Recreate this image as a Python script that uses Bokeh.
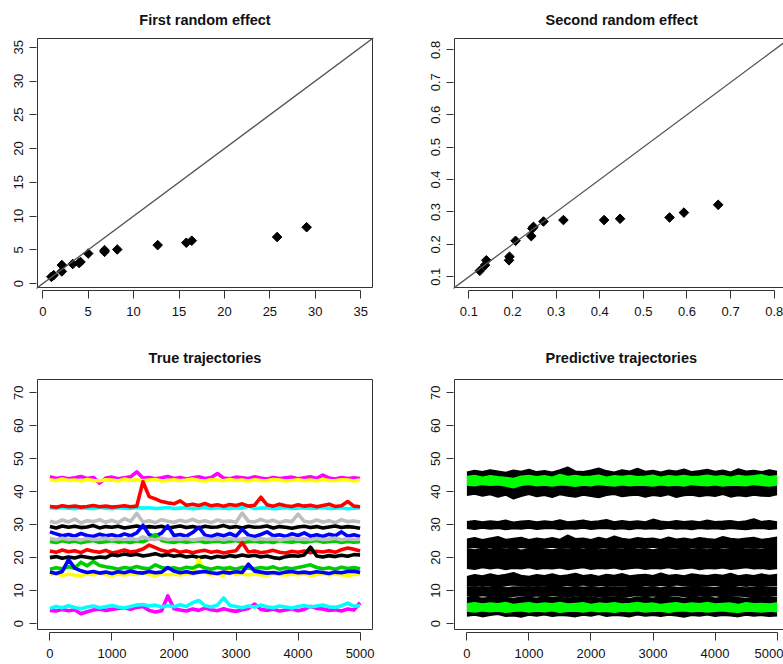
from bokeh.plotting import figure
from bokeh.layouts import column, row
from bokeh.models import FixedTicker, BoxAnnotation, Slope, Range1d
from bokeh.embed import file_html
from bokeh.resources import INLINE

FONT = "Liberation Sans"

# ---------------- data ----------------
# First random effect (true vs estimated)
RE1_X = [0.95, 1.2, 2.1, 2.1, 3.3, 4.0, 4.15, 5.0, 6.8, 6.8, 8.2, 12.65, 15.8, 16.4, 25.8, 29.05]
RE1_Y = [1.0, 1.25, 1.8, 2.75, 2.9, 3.05, 3.2, 4.45, 4.7, 4.95, 5.05, 5.7, 6.05, 6.35, 6.9, 8.35]
# Second random effect
RE2_X = [0.125, 0.137, 0.140, 0.192, 0.193, 0.207, 0.243, 0.2455, 0.248, 0.271, 0.3167, 0.41, 0.4466, 0.56, 0.593, 0.6715]
RE2_Y = [0.1185, 0.136, 0.151, 0.151, 0.162, 0.211, 0.2255, 0.249, 0.254, 0.2705, 0.275, 0.275, 0.279, 0.283, 0.298, 0.322]

RE1_TICKS = [0, 5, 10, 15, 20, 25, 30, 35]
RE2_TICKS = [0.1, 0.2, 0.3, 0.4, 0.5, 0.6, 0.7, 0.8]
TIME_TICKS = [0, 1000, 2000, 3000, 4000, 5000]
LEVEL_TICKS = [0, 10, 20, 30, 40, 50, 60, 70]

# True trajectories, sampled every 100 time steps
TRUE_T = list(range(0, 5001, 100))
TRUE_MAGENTA_HI = [44.5,44.0,44.3,43.9,44.2,44.6,44.0,44.3,42.6,44.1,
                   44.4,43.9,44.2,44.5,46.0,44.1,44.3,43.9,44.2,44.6,
                   44.0,44.3,43.8,44.2,44.5,44.0,44.3,45.5,44.1,43.9,
                   44.4,44.2,44.0,44.5,44.1,43.8,44.3,44.0,44.2,44.4,
                   43.9,44.2,44.5,44.0,45.0,44.1,43.8,44.3,44.0,44.2,44.0]
TRUE_YELLOW_HI = [43.6,43.3,43.8,43.4,43.5,43.2,43.7,43.4,43.3,43.6,
                  43.5,43.2,43.8,43.4,43.6,43.3,43.5,43.7,43.2,43.4,
                  43.6,43.3,43.5,43.8,43.4,43.2,43.6,43.5,43.3,43.7,
                  43.4,43.5,43.2,43.6,43.4,43.3,43.7,43.5,43.2,43.4,
                  43.6,43.3,43.5,43.2,43.7,43.4,43.3,43.6,43.5,43.2,43.5]
TRUE_CYAN_HI = [35.1,34.9,35.2,35.0,34.8,35.1,35.0,34.9,35.2,35.0,
                34.8,35.1,35.0,34.9,35.2,35.0,35.1,34.9,35.0,35.2,
                34.9,35.0,35.1,34.8,35.0,35.2,34.9,35.1,35.0,34.9,
                35.1,35.0,35.6,34.9,35.0,35.1,34.8,35.0,35.2,34.9,
                35.0,35.1,34.9,35.0,35.2,34.9,35.0,35.1,34.8,35.0,35.1]
TRUE_RED_HI = [35.5,35.3,35.7,35.4,35.6,35.3,35.5,35.8,35.4,35.6,
               35.3,35.5,35.7,35.4,35.6,43.0,38.5,37.8,37.0,36.6,
               36.3,37.2,35.9,36.2,35.8,36.4,35.7,36.0,35.6,36.1,
               35.8,36.3,35.6,35.9,38.3,36.0,35.6,36.2,35.7,35.5,
               36.0,35.6,35.9,35.4,35.8,36.2,35.5,35.7,37.0,35.6,35.4]
TRUE_GRAY_HI = [31.0,30.6,31.4,30.8,31.7,30.5,31.2,30.9,31.5,30.7,
                31.3,30.6,31.8,31.0,33.4,30.8,31.2,30.6,31.5,31.0,
                30.7,31.3,30.9,31.6,30.8,31.2,30.6,31.4,30.9,31.1,
                30.7,33.5,31.0,30.8,31.6,30.9,31.3,30.6,31.2,30.9,
                33.2,31.0,30.7,31.4,30.8,31.2,30.6,31.5,30.9,31.1,30.8]
TRUE_BLACK_HI = [29.4,29.0,29.6,29.2,29.5,29.1,29.3,29.7,29.0,29.4,
                 29.2,29.5,29.0,29.3,29.6,29.1,29.4,29.2,29.5,28.9,
                 29.3,29.6,29.1,29.4,29.0,29.5,29.2,29.3,29.7,29.1,
                 29.4,29.0,29.5,29.2,29.3,29.6,29.0,29.4,29.2,28.9,
                 29.3,29.5,29.1,29.4,29.0,29.3,29.6,29.1,29.4,29.2,28.9]
TRUE_BLUE_HI = [27.8,27.2,26.6,27.0,26.5,27.3,26.7,26.4,27.1,26.6,
                26.9,26.4,27.2,26.6,27.5,29.8,26.9,26.5,27.4,29.6,
                26.7,27.0,26.5,27.6,29.2,26.8,26.4,27.1,26.6,27.3,
                26.5,28.6,26.8,26.4,27.0,27.8,26.6,26.9,26.4,27.2,
                26.7,27.5,26.5,26.9,26.4,27.1,26.6,27.8,26.5,26.9,26.4]
TRUE_GREEN_HI = [24.9,24.6,25.1,24.7,25.0,24.5,24.9,25.2,24.6,24.8,
                 25.1,24.7,24.9,24.6,25.0,24.8,25.6,27.0,25.2,24.8,
                 24.6,25.0,24.7,24.9,25.1,24.6,24.8,25.0,24.7,24.9,
                 25.2,24.6,24.8,25.0,24.7,24.9,24.6,25.1,24.8,24.7,
                 25.0,24.6,24.9,25.2,24.7,24.8,25.0,24.6,24.9,24.7,24.8]
TRUE_GRAY_LO = [25.8,25.4,25.9,25.5,25.7,25.3,25.8,25.5,25.6,25.9,
                25.4,25.7,25.5,25.8,25.4,26.3,25.6,25.5,25.9,25.4,
                25.7,25.5,25.8,25.3,25.6,25.9,25.5,25.7,25.4,25.8,
                25.5,25.6,25.9,25.4,25.7,25.5,25.8,25.3,25.6,25.9,
                25.5,25.7,25.4,25.8,25.5,25.6,25.9,25.4,25.7,25.5,25.6]
TRUE_RED_LO = [22.0,21.6,22.3,21.8,22.1,21.5,22.4,21.9,21.6,22.2,
               21.4,21.8,22.3,21.7,22.0,22.6,23.8,23.0,22.2,21.8,
               22.3,21.6,22.0,21.5,21.9,22.2,21.6,21.9,21.4,21.8,
               22.1,24.5,21.7,22.0,21.5,21.8,22.2,21.6,21.4,21.9,
               21.6,22.0,21.5,21.9,21.7,22.1,21.6,22.4,22.9,22.5,22.0]
TRUE_BLACK_LO = [20.0,20.3,19.8,20.2,19.9,20.4,20.1,19.8,20.2,20.0,
                 20.9,20.6,21.1,20.7,21.0,20.5,20.8,21.2,20.6,20.9,
                 20.4,20.7,20.2,20.5,20.0,20.3,19.9,20.4,20.1,20.6,
                 20.3,20.8,20.4,20.7,20.2,20.5,20.0,19.7,20.3,20.6,
                 20.4,20.8,23.2,20.5,20.2,20.6,20.3,20.7,20.4,20.9,20.8]
TRUE_YELLOW_LO = [14.9,15.2,14.6,15.0,14.7,14.5,15.1,14.8,15.3,14.9,
                  14.6,15.0,14.7,15.2,14.8,15.4,14.9,14.6,15.1,14.8,
                  15.0,14.7,15.2,14.9,19.4,15.6,14.8,15.0,14.6,17.3,
                  14.9,15.1,14.7,15.0,14.8,14.6,15.2,14.9,14.7,15.0,
                  14.8,15.1,14.6,14.9,15.2,14.7,15.0,14.8,14.6,14.9,15.0]
TRUE_GREEN_LO = [16.5,16.9,16.6,17.2,16.8,18.6,17.5,18.8,17.6,17.2,
                 16.9,16.5,17.0,16.7,17.3,16.8,16.6,17.8,17.0,16.7,
                 16.9,16.5,17.1,16.8,17.6,16.9,16.5,17.0,16.7,16.9,
                 16.5,17.1,16.8,16.6,17.0,16.7,17.2,16.5,16.9,16.6,
                 17.0,17.4,17.8,17.0,16.6,16.9,16.5,17.1,16.7,17.0,16.6]
TRUE_BLUE_LO = [15.6,15.2,15.8,19.4,16.8,16.0,15.5,15.8,15.3,15.6,
                15.2,15.7,15.4,15.9,15.5,15.3,15.8,15.4,15.6,17.0,
                15.9,15.4,15.7,15.3,15.6,15.8,15.4,15.2,15.6,15.3,
                15.7,15.5,18.0,15.9,15.6,15.3,15.5,15.2,15.6,15.8,
                15.4,15.6,15.3,15.7,15.5,15.2,15.6,15.4,15.8,15.9,15.5]
TRUE_MAGENTA_LO = [4.0,3.8,4.3,3.9,4.2,3.0,3.6,4.1,4.4,4.0,
                   4.3,4.6,4.8,4.3,4.9,5.2,4.0,3.5,3.9,8.4,
                   4.5,4.1,3.8,4.4,4.0,4.7,4.2,3.9,4.5,4.0,
                   3.7,4.2,4.6,5.9,4.3,4.0,4.4,3.8,4.1,4.5,
                   3.9,4.3,5.2,4.6,4.4,4.0,4.2,3.8,4.4,4.1,6.3]
TRUE_CYAN_LO = [4.6,5.2,4.8,5.4,4.9,4.5,5.0,5.3,4.8,5.1,
                5.5,5.0,4.7,5.2,5.6,5.8,5.3,5.6,5.0,5.4,
                5.1,5.7,5.2,6.3,7.0,5.4,5.0,5.6,7.8,5.5,
                5.2,4.8,5.3,5.0,5.6,5.1,4.8,5.3,5.0,4.7,
                5.2,5.5,5.0,5.3,5.6,5.1,4.9,5.4,6.2,5.3,5.4]

# Predictive trajectories: envelopes (lower / upper) sampled every 125 steps
PRED_T = list(range(0, 5001, 125))
PRED_A_HI = [45.9,46.4,46.0,46.6,46.2,45.8,46.5,46.1,46.7,46.0,
             46.3,45.9,46.6,47.4,46.2,46.0,46.5,47.1,46.3,45.9,
             46.6,46.2,47.0,46.1,46.4,45.9,46.5,46.2,46.8,46.0,
             46.3,46.7,46.1,46.5,45.9,46.9,46.2,46.4,46.0,46.6,46.1]
PRED_A_LO = [38.9,39.3,38.7,39.1,38.4,39.0,37.8,38.6,39.2,38.5,
             38.9,38.3,39.1,38.7,38.4,39.0,38.6,38.2,38.9,39.2,
             38.5,38.8,39.0,38.4,38.9,38.6,39.1,38.3,38.8,39.0,
             38.5,38.9,38.6,39.2,38.4,38.8,38.5,39.0,38.7,38.6,39.1]
PRED_B_HI = [30.9,31.2,30.8,31.1,30.9,31.3,30.7,31.0,31.2,30.8,
             31.1,30.9,31.4,30.8,31.0,31.3,30.9,31.1,31.5,30.8,
             31.2,30.9,31.1,30.8,31.6,31.0,30.8,31.2,30.9,31.1,
             30.8,31.3,30.9,31.0,31.2,30.8,31.1,31.7,30.9,31.2,30.8]
PRED_B_LO = [28.9,28.6,29.0,28.7,28.9,28.5,28.8,28.7,29.0,28.6,
             28.8,28.9,28.5,28.8,28.7,29.0,28.6,28.8,28.9,28.6,
             28.8,28.5,28.9,28.7,28.8,28.6,29.0,28.7,28.8,28.5,
             28.9,28.7,28.8,28.6,28.9,28.7,28.5,28.8,28.9,28.6,28.8]
PRED_C_HI = [25.6,26.0,25.4,25.9,26.3,25.5,25.8,26.1,25.4,25.9,
             25.6,26.0,25.5,26.8,25.7,25.9,25.4,26.1,25.6,26.5,
             25.8,25.5,26.0,25.7,25.9,25.4,26.2,25.6,25.9,25.5,
             26.0,25.7,25.5,26.3,25.8,25.6,25.9,26.1,25.5,25.8,26.2]
PRED_C_LO = [22.9,23.1,22.8,23.2,22.9,23.0,22.7,23.1,22.8,23.0,
             22.9,23.2,22.8,23.0,22.7,23.1,22.9,22.8,23.1,22.9,
             23.0,22.7,23.1,22.9,23.2,22.8,23.0,22.9,22.7,23.1,
             22.8,23.0,22.9,23.1,22.8,22.7,23.0,22.9,23.1,22.8,23.0]
PRED_D_HI = [22.6,22.3,22.8,22.5,22.9,22.4,22.7,22.2,22.6,22.9,
             22.5,22.3,22.7,22.4,22.8,22.5,22.9,22.3,22.6,22.8,
             22.4,22.9,22.5,22.7,22.3,22.8,22.6,22.4,22.9,22.5,
             22.7,22.3,22.8,22.5,22.6,22.9,22.4,22.7,22.5,22.8,22.6]
PRED_D_LO = [16.8,16.5,17.0,16.6,16.9,16.4,16.8,16.6,17.0,16.5,
             16.8,16.6,16.9,16.4,16.7,17.0,16.5,16.8,16.6,16.9,
             16.4,16.7,16.9,16.5,16.8,16.6,17.0,16.5,16.7,16.9,
             16.4,16.8,16.6,16.9,16.5,16.7,17.0,16.6,16.8,16.5,16.7]
PRED_E_HI = [14.2,14.8,14.4,15.0,14.5,14.9,15.4,14.6,14.3,14.8,
             14.5,15.0,14.4,14.7,15.2,14.5,14.8,14.3,14.9,14.6,
             15.1,14.4,14.7,14.9,14.5,15.3,14.6,14.8,14.4,15.0,
             14.7,14.5,14.9,14.6,15.2,14.4,14.8,14.5,15.0,14.6,14.9]
PRED_E_LO = [11.4,11.7,11.3,11.6,11.2,11.5,11.8,11.4,11.6,11.3,
             11.5,11.7,11.2,11.6,11.4,11.8,11.3,11.5,11.7,11.4,
             11.6,11.2,11.5,11.7,11.3,11.6,11.4,11.8,11.5,11.3,
             11.6,11.4,11.7,11.2,11.5,11.6,11.3,11.7,11.4,11.5,11.6]
PRED_F_HI = [11.0,11.2,10.9,11.1,11.3,10.8,11.1,11.0,11.2,10.9,
             11.1,11.3,11.0,10.9,11.2,11.0,11.1,10.8,11.2,11.0,
             11.1,10.9,11.3,11.0,11.1,10.8,11.2,11.0,10.9,11.1,
             11.2,11.0,10.9,11.1,11.3,11.0,10.8,11.1,11.2,10.9,11.0]
PRED_F_LO = [8.4,8.1,8.5,8.2,8.4,8.0,8.3,8.5,8.1,8.4,
             8.2,8.5,8.3,8.0,8.4,8.2,8.5,8.1,8.3,8.4,
             8.0,8.3,8.5,8.2,8.4,8.1,8.3,8.5,8.2,8.0,
             8.4,8.2,8.5,8.1,8.3,8.4,8.2,8.0,8.4,8.3,8.5]
PRED_G_HI = [7.8,8.0,7.7,7.9,8.1,7.8,7.6,8.0,7.9,7.7,
             8.1,7.8,7.9,7.6,8.0,7.8,8.1,7.7,7.9,8.0,
             7.8,7.6,8.0,7.9,7.7,8.1,7.8,7.9,7.6,8.0,
             7.8,8.1,7.7,7.9,8.0,7.8,7.6,7.9,8.1,7.8,7.9]
PRED_G_LO = [2.3,2.6,2.1,2.5,2.8,2.2,2.4,2.0,2.6,2.3,
             2.7,2.2,2.5,2.4,2.1,2.6,2.3,2.8,2.2,2.5,
             2.4,2.1,2.7,2.3,2.5,2.2,2.6,2.4,2.0,2.5,
             2.3,2.7,2.2,2.5,2.4,2.1,2.6,2.3,2.5,2.2,2.4]
PRED_GREEN1_HI = [44.6,44.9,44.4,44.8,44.5,44.3,44.0,44.7,44.9,44.5,
                  44.8,44.4,45.2,44.6,44.9,44.5,44.7,45.0,44.4,44.8,
                  44.6,44.9,44.5,44.7,45.0,44.4,44.8,44.6,44.9,44.5,
                  44.7,45.0,44.6,44.8,44.4,44.9,44.6,44.8,45.1,44.5,44.8]
PRED_GREEN1_LO = [42.0,41.8,42.2,41.9,42.1,41.7,41.2,41.9,42.2,41.8,
                  42.0,41.7,42.1,41.9,41.6,42.0,41.8,42.2,41.9,41.7,
                  42.1,41.8,42.0,41.9,41.7,42.1,41.8,42.0,41.7,42.2,
                  41.9,41.8,42.1,41.7,42.0,41.9,41.8,42.2,41.9,41.7,42.0]
PRED_GREEN2_HI = [6.0,6.3,5.9,6.2,6.0,6.4,5.8,6.1,6.3,5.9,
                  6.2,6.0,6.4,5.9,6.1,6.3,5.8,6.2,6.0,6.3,
                  5.9,6.1,6.4,6.0,6.2,5.8,6.1,6.3,5.9,6.2,
                  6.0,6.4,5.9,6.1,6.2,5.8,6.3,6.0,6.1,5.9,6.2]
PRED_GREEN2_LO = [3.8,3.5,3.9,3.6,3.8,3.4,3.7,3.9,3.5,3.8,
                  3.6,3.9,3.4,3.7,3.8,3.5,3.9,3.6,3.7,3.4,
                  3.8,3.6,3.9,3.5,3.7,3.8,3.4,3.7,3.9,3.6,
                  3.8,3.5,3.7,3.9,3.6,3.4,3.8,3.7,3.5,3.8,3.6]

# R palette colours
R_BLACK, R_RED, R_GREEN, R_BLUE = "#000000", "#FF0000", "#00CD00", "#0000FF"
R_CYAN, R_MAGENTA, R_YELLOW, R_GRAY = "#00FFFF", "#FF00FF", "#FFFF00", "#BEBEBE"
PRED_GREEN = "#00FF00"

TRUE_SERIES = [  # drawn bottom to top
    (TRUE_MAGENTA_HI, R_MAGENTA), (TRUE_YELLOW_HI, R_YELLOW),
    (TRUE_CYAN_HI, R_CYAN), (TRUE_RED_HI, R_RED),
    (TRUE_GRAY_HI, R_GRAY), (TRUE_BLACK_HI, R_BLACK),
    (TRUE_BLUE_HI, R_BLUE), (TRUE_GREEN_HI, R_GREEN), (TRUE_GRAY_LO, R_GRAY),
    (TRUE_RED_LO, R_RED), (TRUE_BLACK_LO, R_BLACK),
    (TRUE_YELLOW_LO, R_YELLOW), (TRUE_GREEN_LO, R_GREEN), (TRUE_BLUE_LO, R_BLUE),
    (TRUE_MAGENTA_LO, R_MAGENTA), (TRUE_CYAN_LO, R_CYAN),
]
PRED_BANDS = [
    (PRED_A_LO, PRED_A_HI, R_BLACK), (PRED_B_LO, PRED_B_HI, R_BLACK),
    (PRED_C_LO, PRED_C_HI, R_BLACK), (PRED_D_LO, PRED_D_HI, R_BLACK),
    (PRED_E_LO, PRED_E_HI, R_BLACK), (PRED_F_LO, PRED_F_HI, R_BLACK),
    (PRED_G_LO, PRED_G_HI, R_BLACK),
    (PRED_GREEN1_LO, PRED_GREEN1_HI, PRED_GREEN), (PRED_GREEN2_LO, PRED_GREEN2_HI, PRED_GREEN),
]

# ---------------- layout helpers ----------------
AXIS_COL = "#333333"
TEXT_COL = "#111111"


def make_panel(width, height, bl, br, bt, bb, box_lim, box_px, pad, xticks, yticks,
               title, title_align, title_offset, title_standoff):
    x0, x1, y0, y1 = box_lim
    bw, bh = box_px
    pl, pbot = pad
    fw = width - bl - br
    fh = height - bt - bb
    sx = bw / (x1 - x0)
    sy = bh / (y1 - y0)
    xs = x0 - pl / sx
    ys = y0 - pbot / sy
    p = figure(width=width, height=height,
               x_range=Range1d(xs, xs + fw / sx), y_range=Range1d(ys, ys + fh / sy),
               output_backend="svg", toolbar_location=None,
               min_border_left=bl, min_border_right=br, min_border_top=bt, min_border_bottom=bb,
               outline_line_color=None, background_fill_color="white", border_fill_color="white")
    p.xgrid.visible = False
    p.ygrid.visible = False

    xa = p.xaxis[0]
    xa.ticker = FixedTicker(ticks=xticks)
    xa.bounds = (xticks[0], xticks[-1])
    xa.axis_line_color = AXIS_COL
    xa.major_tick_line_color = AXIS_COL
    xa.minor_tick_line_color = None
    xa.major_tick_in = 0
    xa.major_tick_out = 8
    xa.major_label_standoff = 8
    xa.major_label_text_font = FONT
    xa.major_label_text_font_size = "13px"
    xa.major_label_text_color = TEXT_COL

    ya = p.yaxis[0]
    ya.ticker = FixedTicker(ticks=yticks)
    ya.axis_line_color = None
    ya.major_tick_line_color = AXIS_COL
    ya.minor_tick_line_color = None
    ya.major_tick_in = 0
    ya.major_tick_out = 7
    ya.major_label_standoff = 6
    ya.major_label_orientation = "vertical"
    ya.major_label_text_font = FONT
    ya.major_label_text_font_size = "13px"
    ya.major_label_text_color = TEXT_COL

    p.add_layout(BoxAnnotation(left=x0, right=x1, bottom=y0, top=y1,
                               fill_alpha=0, line_color=AXIS_COL, line_alpha=1, line_width=1))

    p.title.text = title
    p.title.align = title_align
    p.title.offset = title_offset
    p.title.standoff = title_standoff
    p.title.text_font = FONT
    p.title.text_font_size = "14.5px"
    p.title.text_font_style = "bold"
    p.title.text_color = TEXT_COL
    return p


# top row: canvas y 0..330 ; bottom row: canvas y 330..664
f1 = make_panel(413, 330, 36, 40, 37, 40, (-0.58, 36.3, -0.58, 36.3), (335, 249), (1, 3),
                RE1_TICKS, RE1_TICKS, "First random effect", "center", 0, 19)
f1.add_layout(Slope(gradient=1, y_intercept=0, line_color="#555555", line_width=1.3))
f1.scatter(RE1_X, RE1_Y, marker="square", size=6.8, angle=0.785398, color="black")

f2 = make_panel(370, 330, 40, 0, 37, 40, (0.067, 0.835, 0.067, 0.835), (335, 249), (1, 3),
                RE2_TICKS, RE2_TICKS, "Second random effect", "left", 92, 19)
f2.add_layout(Slope(gradient=1, y_intercept=0, line_color="#555555", line_width=1.3))
f2.scatter(RE2_X, RE2_Y, marker="square", size=6.8, angle=0.785398, color="black")

f3 = make_panel(413, 334, 36, 40, 48, 32, (-199.96, 5199.96, -1.8, 74.0), (335, 250), (1, 3),
                TIME_TICKS, LEVEL_TICKS, "True trajectories", "center", 0, 26)
for ys_, col in TRUE_SERIES:
    f3.line(TRUE_T, ys_, line_color=col, line_width=3.6, line_join="round")

f4 = make_panel(370, 334, 40, 0, 48, 32, (-199.96, 5199.96, -1.8, 74.0), (335, 250), (1, 3),
                TIME_TICKS, LEVEL_TICKS, "Predictive trajectories", "left", 92, 26)
for lo, hi, col in PRED_BANDS:
    f4.varea(x=PRED_T, y1=lo, y2=hi, fill_color=col)
    f4.line(PRED_T, hi, line_color=col, line_width=1.5, line_join="round")
    f4.line(PRED_T, lo, line_color=col, line_width=1.5, line_join="round")

layout = column(row(f1, f2), row(f3, f4))
open("out.html", "w").write(file_html(layout, INLINE))
